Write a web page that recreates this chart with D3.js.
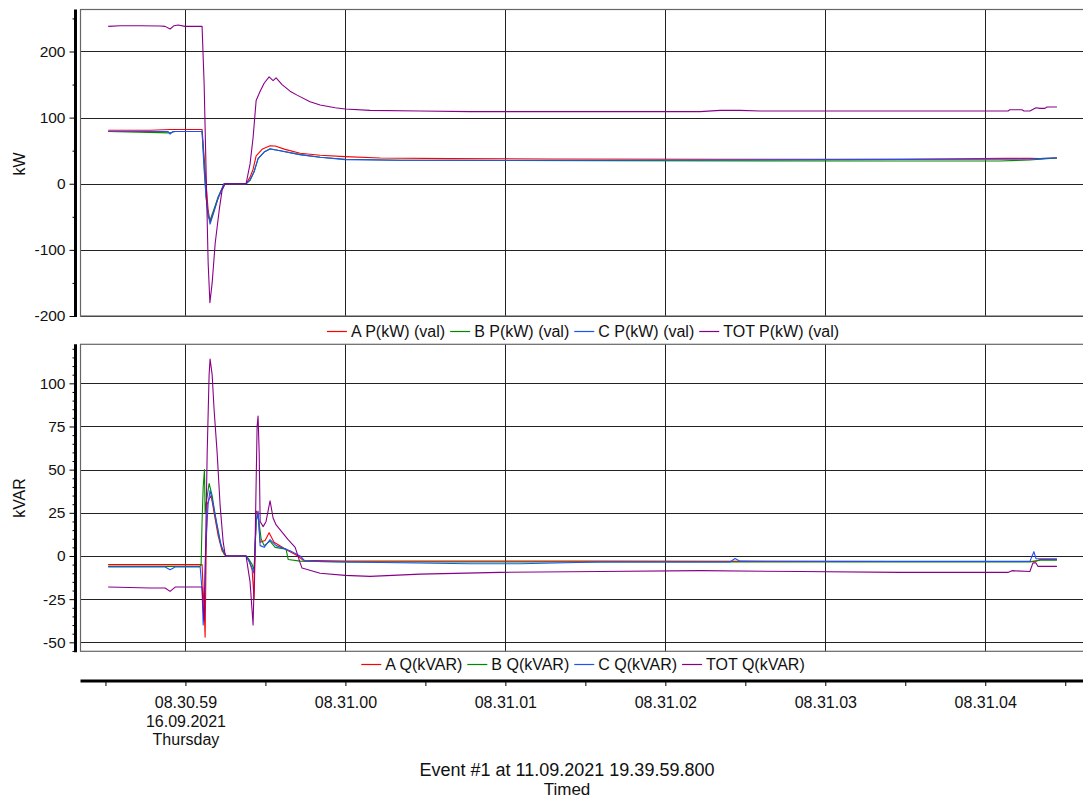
<!DOCTYPE html>
<html>
<head>
<meta charset="utf-8">
<script src="https://cdn.jsdelivr.net/npm/d3@7"></script>
<style>
  html, body { margin: 0; padding: 0; background: #fff; }
  svg { display: block; font-family: "Liberation Sans", Arial, sans-serif; }
</style>
</head>
<body>
<svg id="chart" width="1083" height="798"></svg>
<script>
// Sample times: seconds after 08:30:58.000 on 16.09.2021
const tP_TOT = [0.517,0.592,0.717,0.842,0.873,0.904,0.929,0.954,0.998,1.104,1.117,1.129,1.142,1.153,1.167,1.186,1.211,1.229,1.248,1.379,1.404,1.423,1.442,1.467,1.492,1.523,1.548,1.567,1.604,1.654,1.698,1.779,1.842,1.936,1.998,2.154,2.467,2.779,3.092,3.592,4.217,4.342,4.467,4.592,4.842,5.154,5.467,6.142,6.154,6.229,6.242,6.279,6.317,6.342,6.373,6.386,6.448];
const vP_TOT = [238,239,239,238.5,238,234,239,240,238,238,150,20,-120,-180,-150,-90,-40,-10,0,0,30,70,126,140,152,161.6,156,160,150,140,134,124,119,115,113,111,110,109,109,109,109,111,111,110,110,110,110,110,111.8,111.8,110,110,115,114,114,116,116];

const tP_A = [0.517,0.779,0.904,0.998,1.104,1.117,1.129,1.142,1.154,1.179,1.204,1.242,1.379,1.404,1.423,1.442,1.479,1.529,1.561,1.623,1.717,1.842,1.998,2.217,2.654,3.279,4.342,5.467,6.123,6.279,6.342,6.448];
const vP_A = [81,81,82,82,82,40,0,-40,-58,-40,-22,0,0,10,22,42,52,57.5,57,52,46,43,41,39,38,37.5,37,37,38.4,38.4,38,39];

const tP_B = [0.517,0.904,0.936,1.104,1.117,1.129,1.142,1.154,1.179,1.204,1.242,1.379,1.404,1.429,1.454,1.492,1.529,1.592,1.717,1.842,1.998,2.342,3.592,5.467,6.092,6.279,6.342,6.448];
const vP_B = [79,77,79,79,30,-20,-50,-55,-38,-20,0,0,5,18,38,48,53,50,44,40,37,35.5,35,34.3,34.3,36,37,39];

const tP_C = [0.517,0.892,0.904,0.923,1.104,1.117,1.129,1.142,1.154,1.179,1.204,1.242,1.379,1.404,1.429,1.454,1.492,1.529,1.592,1.717,1.842,1.998,2.342,3.592,5.467,6.279,6.342,6.448];
const vP_C = [79,79,75,79,79,20,-20,-45,-61,-42,-22,0,0,6,18,38,48,52.5,50,44,40,36.5,35.5,35.5,36.8,37,38,39.3];

const tQ_TOT = [0.517,0.779,0.873,0.904,0.936,1.104,1.111,1.117,1.123,1.136,1.148,1.154,1.167,1.179,1.198,1.217,1.236,1.248,1.254,1.379,1.404,1.423,1.436,1.448,1.454,1.461,1.467,1.486,1.504,1.529,1.548,1.567,1.642,1.686,1.717,1.729,1.842,1.998,2.154,2.467,2.967,3.592,4.217,4.842,5.467,6.142,6.167,6.279,6.298,6.317,6.329,6.448];
const vQ_TOT = [-18,-18.5,-18.5,-20.5,-18,-18,-30,-37,-10,60,105,114,105,85,60,29,8,1,0,0,-15,-40,10,75,81,60,20,17,20,32,22,18,9.5,5,-4,-7,-10,-11.2,-11.8,-10.5,-9.5,-9,-8.5,-9,-9.5,-9.5,-8.5,-9,-4,-4,-6,-6];

const tQ_A = [0.517,1.092,1.104,1.111,1.117,1.123,1.129,1.136,1.148,1.161,1.179,1.204,1.229,1.254,1.379,1.398,1.417,1.429,1.442,1.454,1.467,1.498,1.523,1.554,1.642,1.704,1.736,1.998,3.592,5.467,6.279,6.317,6.342,6.448];
const vQ_A = [-5,-5,-5,-20,-30,-47,0,30,33,35,25,12,3,0,0,-3,-8,-25,26,25,8,9,13.5,8,3,0,-2.5,-3,-3,-3.2,-3.2,-3,-2,-2];

const tQ_B = [0.517,0.904,1.092,1.098,1.104,1.111,1.119,1.123,1.129,1.148,1.167,1.192,1.217,1.242,1.254,1.379,1.398,1.417,1.429,1.442,1.454,1.473,1.492,1.529,1.561,1.629,1.642,1.717,1.998,3.592,5.467,6.279,6.342,6.448];
const vQ_B = [-6,-6,-6,-5,20,40,50,25,30,42,35,20,8,1,0,0,-2,-5,-8,20,24,10,6,8.6,5,4,-2,-3,-3.5,-3.5,-3.5,-3.5,-2.5,-2.5];

const tQ_C = [0.517,0.873,0.904,0.936,1.092,1.104,1.111,1.117,1.129,1.142,1.154,1.173,1.198,1.223,1.248,1.254,1.379,1.398,1.417,1.429,1.442,1.454,1.467,1.492,1.529,1.567,1.654,1.717,1.748,1.998,2.779,3.092,3.592,4.404,4.436,4.467,5.467,6.279,6.304,6.317,6.448];
const vQ_C = [-6.4,-6.4,-8,-6.4,-6.4,-20,-40,-30,10,30,38,30,18,6,1,0,0,-3,-7,-10,20,26,6,5,9.5,6,3,0,-3,-3.5,-4.5,-4.5,-3.5,-3.5,-1.5,-3,-3.1,-3.1,2.5,-1.5,-1.7];

// Axis ticks and labels
const pMajorTicks = [-200, -100, 0, 100, 200];
const pMinorTicks = [-150, -50, 50, 150, 250];
const qMajorTicks = [-50, -25, 0, 25, 50, 75, 100];
const qMinorTicks = d3.range(-55, 125, 5).filter(v => v % 25 !== 0);
const firstTickLines = ["08.30.59", "16.09.2021", "Thursday"];
const pLegend = ["A P(kW) (val)", "B P(kW) (val)", "C P(kW) (val)", "TOT P(kW) (val)"];
const qLegend = ["A Q(kVAR)", "B Q(kVAR)", "C Q(kVAR)", "TOT Q(kVAR)"];
const titleLines = ["Event #1 at 11.09.2021 19.39.59.800", "Timed"];

const colors = ["#ff0000", "#008800", "#1e50ff", "#880088"];

// ---- layout ----
const svg = d3.select("#chart");
const X0 = 80.5, X1 = 1083;
const base = new Date(2021, 8, 16, 8, 30, 58).getTime();
const at = s => new Date(base + s * 1000);

const x = d3.scaleTime().domain([at(0.344), at(6.611)]).range([X0, X1]);

const panels = [
  { top: 9.5, bottom: 316, domain: [-200, 263.5], major: pMajorTicks, minor: pMinorTicks,
    title: "kW", titleY: 164, legend: pLegend, legendY: 331,
    series: [[tP_A, vP_A], [tP_B, vP_B], [tP_C, vP_C], [tP_TOT, vP_TOT]] },
  { top: 344.3, bottom: 651.3, domain: [-55.2, 122.6], major: qMajorTicks, minor: qMinorTicks,
    title: "kVAR", titleY: 498, legend: qLegend, legendY: 664,
    series: [[tQ_A, vQ_A], [tQ_B, vQ_B], [tQ_C, vQ_C], [tQ_TOT, vQ_TOT]] }
];

const majorSeconds = d3.range(1, 7).map(at);
const minorSeconds = d3.range(0.5, 7, 1).map(at);

panels.forEach((p, i) => {
  const y = d3.scaleLinear().domain(p.domain).range([p.bottom, p.top]);
  const g = svg.append("g");

  // clip region for traces
  svg.append("clipPath").attr("id", "clip" + i)
    .append("rect").attr("x", X0).attr("y", p.top).attr("width", X1 - X0).attr("height", p.bottom - p.top);

  // horizontal grid
  g.selectAll(".hg").data(p.major).join("line")
    .attr("x1", X0).attr("x2", X1)
    .attr("y1", d => Math.round(y(d)) + 0.5).attr("y2", d => Math.round(y(d)) + 0.5)
    .attr("stroke", "#222").attr("stroke-width", 1);

  // vertical grid
  g.selectAll(".vg").data(majorSeconds).join("line")
    .attr("x1", d => Math.round(x(d)) + 0.5).attr("x2", d => Math.round(x(d)) + 0.5)
    .attr("y1", p.top).attr("y2", p.bottom)
    .attr("stroke", "#222").attr("stroke-width", 1);

  // plot frame
  g.append("rect").attr("x", X0).attr("y", p.top).attr("width", X1 - X0 + 2).attr("height", p.bottom - p.top)
    .attr("fill", "none").attr("stroke", "#666").attr("stroke-width", 1.2);

  // traces
  const line = d3.line().x(d => x(at(d[0]))).y(d => y(d[1]));
  const traces = svg.append("g").attr("clip-path", `url(#clip${i})`);
  p.series.forEach(([ts, vs], k) => {
    traces.append("path")
      .datum(ts.map((t, j) => [t, vs[j]]))
      .attr("d", line)
      .attr("fill", "none")
      .attr("stroke", colors[k])
      .attr("stroke-width", 1.1)
      .attr("stroke-linejoin", "round");
  });

  // left axis: major ticks with labels, then minor ticks
  const axisX = 75.5;
  const ax = svg.append("g").attr("transform", `translate(${axisX},0)`)
    .call(d3.axisLeft(y).tickValues(p.major).tickSize(6).tickSizeOuter(0).tickPadding(4).tickFormat(d => String(d)));
  ax.select(".domain").remove();
  ax.selectAll(".tick line").attr("stroke", "#000");
  ax.selectAll(".tick text").attr("font-size", 15.5).attr("fill", "#111").attr("font-family", "Liberation Sans, Arial, sans-serif");
  const axm = svg.append("g").attr("transform", `translate(${axisX},0)`)
    .call(d3.axisLeft(y).tickValues(p.minor).tickSize(3).tickFormat(""));
  axm.select(".domain").remove();
  axm.selectAll(".tick line").attr("stroke", "#000");
  svg.append("line").attr("x1", axisX).attr("x2", axisX)
    .attr("y1", p.top).attr("y2", p.bottom + 1)
    .attr("stroke", "#000").attr("stroke-width", 3);

  // axis title
  svg.append("text")
    .attr("transform", `translate(25,${p.titleY}) rotate(-90)`)
    .attr("text-anchor", "middle").attr("font-size", 16).attr("fill", "#111")
    .text(p.title);

  // legend, centred under the plot
  const lg = svg.append("g");
  let cx = 0;
  p.legend.forEach((name, k) => {
    const item = lg.append("g").attr("transform", `translate(${cx},0)`);
    item.append("line").attr("x1", 0).attr("x2", 20).attr("y1", 0.5).attr("y2", 0.5)
      .attr("stroke", colors[k]).attr("stroke-width", 1.2);
    const t = item.append("text").attr("x", 24).attr("y", 6).attr("font-size", 16).attr("fill", "#111").text(name);
    cx += 24 + t.node().getComputedTextLength() + 5;
  });
  const lw = cx - 5;
  lg.attr("transform", `translate(${583 - lw / 2},${p.legendY})`);
});

// bottom time axis
const axisY = 681;
const xa = svg.append("g").attr("transform", `translate(0,${axisY})`)
  .call(d3.axisBottom(x).tickValues(majorSeconds).tickSize(5).tickPadding(11).tickFormat(d3.timeFormat("%H.%M.%S")));
xa.select(".domain").remove();
xa.selectAll(".tick line").attr("stroke", "#000");
xa.selectAll(".tick text").attr("font-size", 16).attr("fill", "#111").attr("font-family", "Liberation Sans, Arial, sans-serif");
const xm = svg.append("g").attr("transform", `translate(0,${axisY})`)
  .call(d3.axisBottom(x).tickValues(minorSeconds).tickSize(5).tickFormat(""));
xm.select(".domain").remove();
xm.selectAll(".tick line").attr("stroke", "#000");
svg.append("line").attr("x1", X0).attr("x2", X1).attr("y1", axisY).attr("y2", axisY)
  .attr("stroke", "#000").attr("stroke-width", 3);

// first tick carries the date and weekday
const firstText = xa.select(".tick text");
firstText.text(null);
firstTickLines.forEach((s, j) => {
  firstText.append("tspan").attr("x", 0).attr("dy", j === 0 ? "0.71em" : "1.15em").text(s);
});

// event caption
svg.append("text").attr("x", 567).attr("y", 776).attr("text-anchor", "middle")
  .attr("font-size", 18).attr("fill", "#111").text(titleLines[0]);
svg.append("text").attr("x", 567).attr("y", 795).attr("text-anchor", "middle")
  .attr("font-size", 17).attr("fill", "#111").text(titleLines[1]);
</script>
</body>
</html>
